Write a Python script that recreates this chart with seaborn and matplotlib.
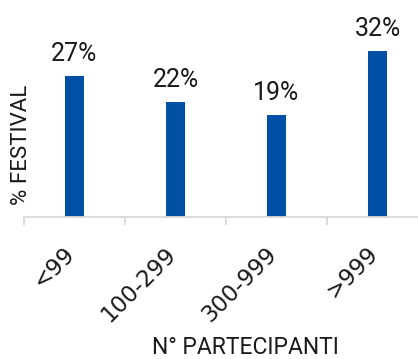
import matplotlib
matplotlib.use("Agg")
import matplotlib.pyplot as plt
import matplotlib.transforms as mtransforms
import seaborn as sns
import pandas as pd
import numpy as np

categories = ["<99", "100-299", "300-999", ">999"]
values = [27.1, 22.2, 19.7, 31.9]
value_labels = ["27%", "22%", "19%", "32%"]

sns.set_theme(style="white")
plt.rcParams['font.family'] = ['Roboto', 'DejaVu Sans']
text_color = "#1a1a1a"

fig = plt.figure(figsize=(4.18, 3.59), dpi=100)
ax = fig.add_axes([24/418, 142/359, 404/418, 182/359])

df = pd.DataFrame({"cat": categories, "val": values})
sns.barplot(data=df, x="cat", y="val", color="#0051A5", width=0.18,
            saturation=1, ax=ax, edgecolor="none")

ax.set_xlim(-0.5, 3.5)
ax.set_ylim(0, 35)

for i, (v, lab) in enumerate(zip(values, value_labels)):
    ax.annotate(lab, (i, v), xytext=(0, 7), textcoords="offset points",
                ha="center", va="bottom", fontsize=18, color=text_color)

for s in ["top", "right", "left"]:
    ax.spines[s].set_visible(False)
ax.spines["bottom"].set_color("#d9d9d9")
ax.spines["bottom"].set_linewidth(1.3)
ax.set_yticks([])

ax.set_xticks(range(len(categories)))
ax.set_xticklabels(categories, rotation=45, ha="right", va="center",
                   rotation_mode="anchor", fontsize=16.5, color=text_color,
                   family=["DejaVu Sans"])
ax.tick_params(axis="x", which="major", length=0, pad=24)
shift = mtransforms.ScaledTranslation(-3/100, 0, fig.dpi_scale_trans)
for lbl in ax.get_xticklabels():
    lbl.set_transform(lbl.get_transform() + shift)
ax.set_xticks(np.arange(-0.5, len(categories), 1.0), minor=True)
ax.tick_params(axis="x", which="minor", length=6, width=1.3, color="#d9d9d9",
               direction="out", bottom=True)

ax.set_xlabel("N° PARTECIPANTI", fontsize=16.5, color=text_color)
ax.set_ylabel("% FESTIVAL", fontsize=16, color=text_color)
ax.xaxis.set_label_coords((245 - 24) / 404, -(347 - 217) / 182, transform=ax.transAxes)
ax.xaxis.label.set_va("center")
ax.yaxis.set_label_coords(-(24 - 22) / 404, (217 - 145) / 182)
ax.yaxis.label.set_va("center")

fig.savefig("out.png", dpi=100)
